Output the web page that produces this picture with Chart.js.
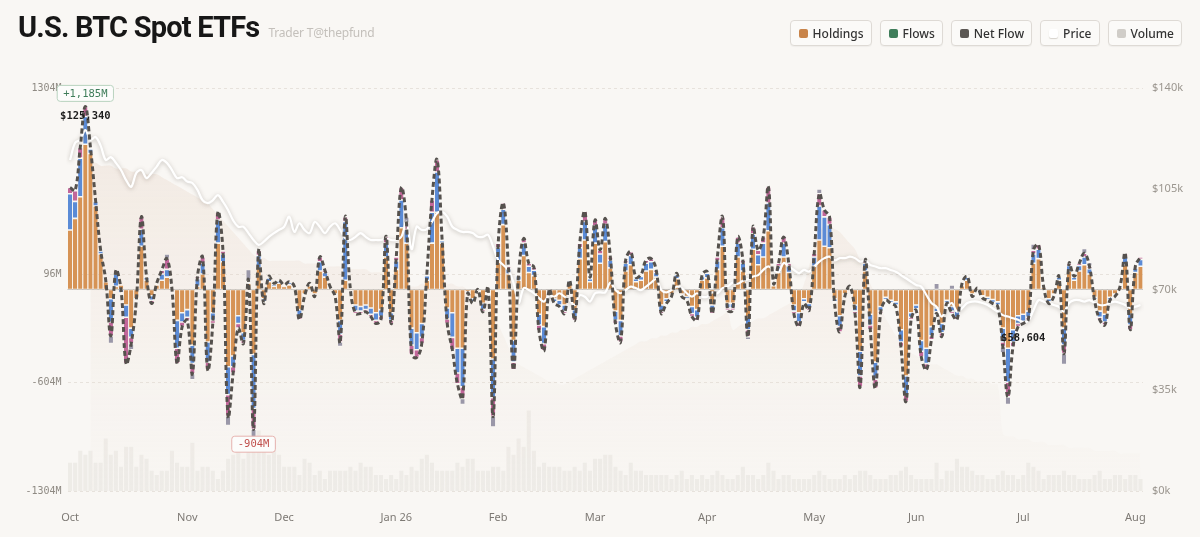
<!DOCTYPE html>
<html>
<head>
<meta charset="utf-8">
<script src="https://cdn.jsdelivr.net/npm/chart.js@4.4.1/dist/chart.umd.min.js"></script>
<style>
  html, body { margin: 0; padding: 0; background: #f9f7f4; }
  #wrap { position: relative; width: 1200px; height: 537px; overflow: hidden; }
  #chart { position: absolute; left: 0; top: 0; }
  #head { position: absolute; left: 18px; top: 10px; line-height: 38px; white-space: nowrap; }
  #head .title { font: 700 29px "Roboto", sans-serif; letter-spacing: -0.8px; color: #171717; }
  #head .sub { font: 400 12px "Noto Sans", sans-serif; color: #c4c0bb; margin-left: 9px; letter-spacing: -0.2px; }
  #legend { position: absolute; right: 18px; top: 20px; display: flex; gap: 8px; }
  .btn { height: 26px; box-sizing: border-box; border: 1px solid #dedad5; border-radius: 4px;
         background: #fbfaf8; padding: 0 7px 0 8px; display: flex; align-items: center; gap: 5px;
         font: 500 12px "Noto Sans", sans-serif; color: #333; box-shadow: 0 1px 1px rgba(0,0,0,0.04); }
  .sw { width: 9px; height: 9px; border-radius: 2px; }
</style>
</head>
<body>
<div id="wrap">
  <canvas id="chart" width="1200" height="537"></canvas>
  <div id="head"><span class="title">U.S. BTC Spot ETFs</span><span class="sub">Trader T@thepfund</span></div>
  <div id="legend">
    <div class="btn"><span class="sw" style="background:#c8844a"></span>Holdings</div>
    <div class="btn"><span class="sw" style="background:#3f7d5a"></span>Flows</div>
    <div class="btn"><span class="sw" style="background:#5b5753"></span>Net Flow</div>
    <div class="btn"><span class="sw" style="background:#fff;box-shadow:0 1px 1px #d6d2cc"></span>Price</div>
    <div class="btn"><span class="sw" style="background:#d0cdc8"></span>Volume</div>
  </div>
</div>
<script>
// 取引日ごとのカテゴリ（月の初日だけラベル表示）
const monthNames = ["Oct", "Nov", "Dec", "Jan 26", "Feb", "Mar", "Apr", "May", "Jun", "Jul", "Aug"];
const monthDays = [23, 19, 22, 20, 19, 22, 21, 20, 21, 22, 2];

// 左軸の目盛り (M USD) と右軸の目盛り ($k)
const flowTicks = [1304, 96, -604, -1304];
const priceTicks = [140, 105, 70, 35, 0];

// ネットフロー (M USD)
const netFlow = [
  660, 640, 920, 1185, 920, 580, 255, 60, -300, 125,
  0, -480, -350, -70, 470, 85, -90, 40, 125, 200,
  0, -480, -240, -200, -545, 85, 210, -520, -220, 500,
  250, -820, -540, -250, -350, 60, -904, 255, -90, 85,
  40, 60, 30, 50, 20, -195, -45, 40, -45, 210,
  125, 20, -45, -340, 470, 0, -155, -155, -145, -175,
  -220, -195, 345, -220, 210, 660, 430, -420, -440, -350,
  100, 580, 840, 320, -220, -390, -610, -705, -25, -90,
  0, -145, 15, -820, 300, 560, 150, -520, 100, 330,
  170, 145, -265, -395, 0, -90, -110, -155, 60, -200,
  300, 505, 80, 450, 255, 460, 210, -220, -340, 190,
  245, 80, 95, 190, 200, 125, -155, -90, -45, 105,
  -45, -70, -175, -200, 95, 115, -155, 210, 470, -135,
  -135, 340, 190, -305, 405, 255, 340, 665, 40, 170,
  340, 170, -155, -240, -90, -135, 235, 620, 515, 470,
  -90, -275, -45, 20, -155, -630, 190, -260, -640, -155,
  -70, -90, -110, -370, -725, -195, -135, -435, -520, -325,
  -155, -305, -90, -155, -195, 40, 85, -45, 10, -55,
  -70, -90, -110, -370, -695, -370, -240, -220, -195, 255,
  290, 20, -90, -45, 85, -415, 170, 85, 170, 235,
  150, -70, -195, -230, -70, -45, 20, 235, -260, 150,
  210
];

// ETF別フロー (M USD)
const flowOrange = [
  385, 460, 600, 940, 880, 540, 230, 50, -60, 20,
  30, -100, -250, -60, 280, 60, -40, 30, 60, 80,
  0, -200, -150, -130, -360, 20, 100, -340, -150, 300,
  180, -500, -430, -170, -280, 40, -420, 140, -60, 50,
  20, 40, 20, 30, 10, -130, -30, 25, -30, 120,
  80, 10, -30, -200, 60, 0, -100, -110, -100, -120,
  -150, -130, 210, -150, 130, 400, 300, -250, -280, -220,
  60, 300, 500, 300, -120, -150, -380, -380, -15, -60,
  0, -90, 10, -450, 180, 420, 100, -330, 60, 220,
  110, 90, -160, -240, 0, -60, -70, -100, 40, -130,
  200, 320, 50, 300, 170, 310, 140, -140, -200, 120,
  160, 50, 60, 120, 130, 80, -100, -60, -30, 70,
  -30, -45, -110, -130, 60, 75, -100, 130, 280, -90,
  -90, 210, 120, -180, 260, 160, 210, 380, 25, 110,
  210, 110, -100, -150, -60, -90, 150, 320, 280, 270,
  -60, -170, -30, 10, -100, -400, 120, -160, -470, -110,
  -50, -70, -80, -260, -560, -150, -100, -330, -380, -240,
  -120, -220, -70, -110, -140, 25, 60, -30, 5, -40,
  -50, -65, -80, -250, -380, -260, -170, -160, -140, 170,
  200, 15, -60, -30, 60, -250, 120, 60, 120, 160,
  100, -50, -140, -160, -50, -30, 15, 160, -160, 110,
  150
];
const flowBlue = [
  235, 110, 250, 180, 30, 30, 20, 10, -150, 80,
  -20, -80, -60, -10, 110, 20, -30, 10, 40, 50,
  0, -180, -60, -50, -120, 50, 70, -130, -50, 150,
  50, -180, -70, -50, -50, 10, -350, 80, -20, 25,
  15, 15, 10, 15, 10, -40, -10, 10, -10, 60,
  30, 10, -10, -90, 380, 0, -40, -30, -30, -40,
  -50, -45, 90, -50, 55, 180, 90, -110, -110, -90,
  30, 200, 260, 15, -70, -160, -160, -250, -10, -20,
  0, -40, 5, -250, 90, 100, 35, -140, 30, 80,
  40, 35, -70, -110, 0, -20, -30, -40, 15, -50,
  70, 120, 20, 110, 60, 110, 50, -60, -100, 50,
  60, 20, 25, 50, 50, 30, -40, -20, -10, 25,
  -10, -15, -45, -50, 25, 30, -40, 55, 120, -30,
  -30, 90, 50, -80, 100, 65, 90, 180, 10, 40,
  90, 40, -40, -60, -20, -30, 60, 220, 190, 150,
  -20, -70, -10, 10, -40, -160, 50, -70, -110, -30,
  -15, -15, -20, -80, -120, -30, -25, -70, -100, -60,
  -25, -60, -15, -30, -40, 10, 20, -10, 5, -10,
  -15, -20, -20, -90, -220, -80, -50, -45, -40, 60,
  60, 5, -20, -10, 20, -110, 35, 20, 35, 50,
  35, -15, -40, -50, -15, -10, 5, 50, -70, 30,
  45
];
const flowPink = [
  40, 70, 70, 65, 10, 10, 5, 0, -90, 25,
  -10, -300, -40, 0, 80, 5, -20, 0, 25, 70,
  0, -100, -30, -20, -65, 15, 40, -50, -20, 50,
  20, -140, -40, -30, -20, 10, -134, 35, -10, 10,
  5, 5, 0, 5, 0, -25, -5, 5, -5, 30,
  15, 0, -5, -50, 30, 0, -15, -15, -15, -15,
  -20, -20, 45, -20, 25, 80, 40, -60, -50, -40,
  10, 80, 80, 5, -30, -80, -70, -75, 0, -10,
  0, -15, 0, -120, 30, 40, 15, -50, 10, 30,
  20, 20, -35, -45, 0, -10, -10, -15, 5, -20,
  30, 65, 10, 40, 25, 40, 20, -20, -40, 20,
  25, 10, 10, 20, 20, 15, -15, -10, -5, 10,
  -5, -10, -20, -20, 10, 10, -15, 25, 70, -15,
  -15, 40, 20, -45, 45, 30, 40, 105, 5, 20,
  40, 20, -15, -30, -10, -15, 25, 80, 45, 50,
  -10, -35, -5, 0, -15, -70, 20, -30, -60, -15,
  -5, -5, -10, -30, -45, -15, -10, -35, -40, -25,
  -10, -25, -5, -15, -15, 5, 5, -5, 0, -5,
  -5, -5, -10, -30, -95, -30, -20, -15, -15, 25,
  30, 0, -10, -5, 5, -55, 15, 5, 15, 25,
  15, -5, -15, -20, -5, -5, 0, 25, -30, 10,
  15
];
const flowOther = [
  0, 0, 0, 0, 0, 0, 0, 0, -50, 0,
  0, 0, -40, 0, 0, 0, 0, 0, 0, 30,
  0, 0, 0, 0, -40, 0, 0, 0, 0, 0,
  0, -60, 0, 0, 0, 70, -60, 0, 0, 0,
  0, 0, 0, 0, 0, 0, 0, 0, 0, 0,
  0, 0, 0, -30, 0, 0, 0, 0, 0, 0,
  0, 0, 0, 0, 0, 0, 40, 0, 0, 0,
  0, 0, 0, 0, 0, 0, 0, -40, 0, 0,
  0, 0, 0, -70, 0, 0, 0, 0, 0, 0,
  0, 0, 0, 0, 0, 0, 0, 0, 0, 0,
  0, 0, 0, 0, 0, 0, 0, 0, 0, 0,
  0, 0, 0, 0, 0, 0, 0, 0, 0, 0,
  0, 0, 0, 0, 0, 0, 0, 0, 0, 0,
  0, 0, 0, -20, 0, 0, 0, 0, 0, 0,
  0, 0, 0, 0, 0, 0, 0, 30, 0, 0,
  0, 0, 0, 0, 0, 0, 0, 0, 0, 0,
  0, 0, 0, 0, 0, 0, 0, 0, 0, 0,
  40, 0, 0, 30, 0, 0, 0, 0, 0, 0,
  0, 0, 0, -40, -50, 0, 0, 0, 0, 40,
  0, 0, 0, 0, 0, -70, 0, 0, 0, 30,
  25, 0, 0, 0, 0, 0, 0, 0, 0, 0,
  0
];

// BTC価格 ($k)
const price = [
  115, 121, 122, 125.34, 122, 123, 120, 115, 116, 114,
  111.5, 108, 105.7, 110.5, 111.5, 108.7, 110.5, 112.7, 115, 114,
  111.5, 108.7, 109, 107.5, 107, 104.6, 101, 100, 101, 102.8,
  100.5, 97.6, 94, 91.8, 91.8, 89.6, 87.2, 85.5, 86.6, 88.3,
  89.6, 90.7, 91.8, 95.3, 90, 93, 90.7, 89.6, 93.5, 91.8,
  89.6, 91.8, 93, 90.7, 87.8, 87.2, 88.3, 89.6, 88.3, 87.2,
  87.2, 87.2, 87.8, 87.2, 87.2, 88.3, 93.5, 84, 91.8, 90.7,
  91, 93.5, 96.5, 97, 95.3, 91.8, 90.7, 90, 90, 89.6,
  88.3, 88.3, 89, 84.9, 80.2, 78.5, 76.8, 72.3, 65.3, 70.5,
  69.8, 68.7, 67, 65.8, 68, 67.5, 68.7, 67.5, 66.4, 64.6,
  68, 67.5, 65.8, 68.7, 69, 69, 72.4, 69.8, 68.7, 69.8,
  71, 70.5, 69.8, 71, 72.4, 73.6, 69.8, 69, 69.8, 71,
  70.5, 68.7, 67.5, 68.7, 67.5, 67.5, 69, 68.7, 70.5, 71,
  72.4, 72, 73, 73.6, 74.5, 75, 76.8, 78, 76.8, 76,
  79.2, 78, 76.8, 75.7, 76.8, 76.2, 78, 79.7, 80.9, 81.4,
  80.1, 80.9, 80.9, 81.4, 80.9, 79.7, 80.1, 78.5, 78, 77.4,
  77.4, 76.8, 76.2, 75, 73.9, 72.7, 71.6, 71, 68.1, 65.3,
  64, 60.6, 63.5, 65.3, 62.3, 63.5, 65.3, 65.8, 65.8, 65.3,
  64.6, 63.5, 62.3, 61.1, 60.6, 60, 59.5, 58.604, 59.2, 62.8,
  66.3, 65.8, 65.3, 64.6, 64, 62.3, 65.3, 66.3, 66.3, 65.8,
  66.3, 65.3, 64.6, 64.6, 65.3, 65.8, 65.3, 64.6, 63.5, 64,
  64.6
];

// 保有額 ($B)
const holdings = [
  null, null, null, null, 114, 114, 113, 113, 113, 112,
  112, 112, 111, 111, 111, 110, 110, 110, 109, 108,
  107, 106, 105, 104, 103, 102, 101, 100, 98, 96,
  94, 92, 90, 88, 86, 84, 82, 81, 81, 80,
  80, 80, 80, 80, 80, 80, 79, 79, 79, 79,
  78, 78, 78, 78, 77, 77, 77, 77, 77, 76,
  76, 76, 76, 75, 74, 72, 71, 71, 71, 72,
  72, 73, 73, 73, 72, 72, 71, 71, 70, 70,
  69, 68, 66, 62, 58, 54, 50, 46, 44, 43,
  42, 41, 40, 39, 38, 38, 37, 37, 38, 39,
  40, 41, 42, 43, 44, 45, 46, 47, 48, 49,
  50, 51, 52, 52, 53, 53, 54, 54, 55, 55,
  56, 56, 57, 57, 58, 58, 59, 60, 61, 62,
  56, 57, 58, 58, 59, 60, 60, 61, 62, 63,
  64, 65, 66, 68, 72, 78, 85, 90, 92, 92,
  91, 90, 88, 86, 84, 80, 76, 72, 68, 64,
  60, 57, 54, 52, 50, 48, 47, 46, 45, 44,
  44, 43, 42, 41, 40, 40, 39, 39, 38, 38,
  38, 37, 37, 20, 19, 19, 18, 18, 18, 17,
  17, 17, 16, 16, 16, 16, 15, 15, 15, 15,
  15, 14, 14, 14, 14, 14, 13, 13, 13, 13,
  13
];

// 出来高 (B USD)
const volume = [
  7, 7, 10, 9, 10, 7, 7, 13, 9, 10,
  6, 11, 11, 6, 9, 8, 5, 4, 5, 5,
  10, 7, 6, 6, 12, 5, 6, 6, 5, 3,
  5, 8, 9, 10, 8, 11, 10, 15, 12, 9,
  13, 9, 6, 6, 6, 4, 8, 7, 4, 5,
  3, 5, 5, 5, 5, 6, 5, 7, 6, 6,
  4, 4, 3, 4, 3, 5, 4, 6, 5, 8,
  9, 7, 5, 5, 5, 5, 7, 6, 8, 8,
  5, 5, 5, 6, 6, 5, 11, 9, 13, 11,
  20, 10, 6, 7, 6, 6, 6, 5, 5, 6,
  5, 7, 5, 8, 8, 9, 9, 6, 5, 4,
  7, 5, 5, 4, 4, 4, 4, 4, 3, 4,
  5, 3, 4, 3, 4, 3, 4, 5, 4, 3,
  3, 4, 6, 4, 4, 3, 4, 7, 5, 3,
  4, 4, 3, 3, 3, 3, 4, 5, 4, 3,
  3, 3, 4, 3, 4, 5, 5, 4, 3, 3,
  3, 4, 4, 5, 6, 4, 3, 3, 3, 3,
  7, 3, 5, 5, 8, 6, 6, 5, 4, 4,
  3, 3, 4, 5, 4, 4, 3, 4, 7, 6,
  5, 3, 4, 4, 4, 5, 4, 4, 3, 3,
  3, 4, 5, 3, 3, 4, 4, 3, 4, 4,
  3
];

const labels = [];
monthNames.forEach((m, k) => {
  for (let d = 0; d < monthDays[k]; d++) labels.push(d === 0 ? m : "");
});

const monoFont = '"DejaVu Sans Mono", monospace';
const sansFont = '"Noto Sans", sans-serif';

// 価格ラインに薄い影をつける
const lineGlow = {
  id: "lineGlow",
  beforeDatasetDraw(chart, args) {
    const ds = chart.data.datasets[args.index];
    if (ds.glow) {
      chart.ctx.save();
      chart.ctx.shadowColor = ds.glow;
      chart.ctx.shadowBlur = 4;
      chart.ctx.shadowOffsetY = 1;
    }
  },
  afterDatasetDraw(chart, args) {
    if (chart.data.datasets[args.index].glow) chart.ctx.restore();
  },
};

function tag(c, text, x, y, color, border) {
  c.save();
  c.font = "500 10.5px " + monoFont;
  const w = c.measureText(text).width + 12;
  const h = 16;
  c.fillStyle = "#fcfcfb";
  c.strokeStyle = border;
  c.lineWidth = 1;
  c.beginPath();
  c.roundRect(x - w / 2, y - h / 2, w, h, 3);
  c.fill();
  c.stroke();
  c.fillStyle = color;
  c.textAlign = "center";
  c.textBaseline = "middle";
  c.fillText(text, x, y + 0.5);
  c.restore();
}

// ゼロ線と最大・最小の注記
const marks = {
  id: "marks",
  beforeDatasetsDraw(chart) {
    const { ctx: c, chartArea, scales } = chart;
    const y0 = scales.y.getPixelForValue(0);
    c.save();
    c.strokeStyle = "rgba(150,145,140,0.55)";
    c.lineWidth = 1;
    c.beginPath();
    c.moveTo(chartArea.left, y0);
    c.lineTo(chartArea.right, y0);
    c.stroke();
    c.restore();
  },
  afterDatasetsDraw(chart) {
    const { ctx: c, scales } = chart;
    const hi = netFlow.indexOf(Math.max(...netFlow));
    const lo = netFlow.indexOf(Math.min(...netFlow));
    tag(c, "+" + netFlow[hi].toLocaleString("en-US") + "M",
      scales.x.getPixelForValue(hi), scales.y.getPixelForValue(netFlow[hi]) - 13, "#3f7d5a", "#b9d3bf");
    tag(c, netFlow[lo].toLocaleString("en-US") + "M",
      scales.x.getPixelForValue(lo), scales.y.getPixelForValue(netFlow[lo]) + 15, "#c0504d", "#e6b2ae");

    const pHi = price.indexOf(Math.max(...price));
    const pLo = price.indexOf(Math.min(...price));
    c.save();
    c.font = "700 10.5px " + monoFont;
    c.fillStyle = "#1e1e1e";
    c.textAlign = "center";
    c.textBaseline = "middle";
    c.fillText("$" + Math.round(price[pHi] * 1000).toLocaleString("en-US"),
      scales.x.getPixelForValue(pHi), scales.yPrice.getPixelForValue(price[pHi]) - 14);
    c.fillText("$" + Math.round(price[pLo] * 1000).toLocaleString("en-US"),
      scales.x.getPixelForValue(pLo), scales.yPrice.getPixelForValue(price[pLo]) + 16);
    c.restore();
  },
};

function holdingsFill(context) {
  const { chart } = context;
  const { ctx: c, chartArea } = chart;
  if (!chartArea) return "rgba(226,200,180,0.2)";
  const g = c.createLinearGradient(0, chartArea.top, 0, chartArea.bottom);
  g.addColorStop(0, "rgba(225,196,176,0.32)");
  g.addColorStop(0.6, "rgba(232,214,200,0.16)");
  g.addColorStop(1, "rgba(240,230,222,0.04)");
  return g;
}

const barCommon = {
  type: "bar",
  yAxisID: "y",
  stack: "flows",
  order: 5,
  barPercentage: 0.84,
  categoryPercentage: 1,
  borderColor: "rgba(250,248,245,0.85)",
  borderWidth: { top: 0.8, bottom: 0.8, left: 0, right: 0 },
  borderSkipped: false,
};

const ctx = document.getElementById("chart");

new Chart(ctx, {
  type: "bar",
  data: {
    labels: labels,
    datasets: [
      {
        type: "bar", label: "Volume", data: volume, yAxisID: "yVol", stack: "vol", order: 10,
        grouped: false,
        backgroundColor: "rgba(205,199,193,0.24)", barPercentage: 0.8, categoryPercentage: 1,
      },
      {
        type: "line", label: "Holdings", data: holdings, yAxisID: "yHold", order: 9,
        fill: "start", backgroundColor: holdingsFill, borderWidth: 0, pointRadius: 0, tension: 0.4,
      },
      { ...barCommon, label: "IBIT", data: flowOrange, backgroundColor: "#d69355" },
      { ...barCommon, label: "FBTC", data: flowBlue, backgroundColor: "#5b8bd6" },
      { ...barCommon, label: "GBTC", data: flowPink, backgroundColor: "#c2679a" },
      { ...barCommon, label: "Others", data: flowOther, backgroundColor: "#9a97a8" },
      {
        type: "line", label: "Price", data: price, yAxisID: "yPrice", order: 2,
        borderColor: "#ffffff", borderWidth: 2.2, pointRadius: 0, tension: 0.35, fill: false,
        glow: "rgba(90,80,70,0.35)",
      },
      {
        type: "line", label: "Net Flow", data: netFlow, yAxisID: "y", stack: "net", order: 1,
        borderColor: "#55514d", borderWidth: 3, borderDash: [5, 3], pointRadius: 0,
        tension: 0.4, fill: false,
      },
    ],
  },
  options: {
    responsive: false,
    animation: false,
    layout: { padding: { top: 88, left: 0, right: 0, bottom: 0 } },
    plugins: { legend: { display: false }, tooltip: { enabled: false } },
    scales: {
      x: {
        stacked: true,
        grid: { display: false },
        border: { display: false },
        ticks: {
          autoSkip: false, maxRotation: 0, padding: 12, color: "#7d7974",
          font: { family: sansFont, size: 11 },
          callback: (v, i) => labels[i],
        },
        afterFit: (s) => { s.height = 46; },
      },
      y: {
        stacked: true,
        position: "left",
        min: -1304,
        max: 1304,
        afterBuildTicks: (s) => { s.ticks = flowTicks.map((value) => ({ value })); },
        grid: { color: "#e7e2dc", drawTicks: false },
        border: { display: false, dash: [3, 3] },
        ticks: {
          padding: 6, color: "#8f8a83", font: { family: monoFont, size: 10 },
          callback: (v) => v + "M",
        },
        afterFit: (s) => { s.width = 67.5; },
      },
      yPrice: {
        position: "right",
        min: 0,
        max: 140,
        afterBuildTicks: (s) => { s.ticks = priceTicks.map((value) => ({ value })); },
        grid: { display: false, drawTicks: false },
        border: { display: false },
        ticks: {
          padding: 9, color: "#9b968f", font: { family: sansFont, size: 11 },
          callback: (v) => "$" + v + "k",
        },
        afterFit: (s) => { s.width = 57; },
      },
      yVol: { display: false, min: 0, max: 100 },
      yHold: { display: false, min: 0, max: 140 },
    },
  },
  plugins: [lineGlow, marks],
});
</script>
</body>
</html>
